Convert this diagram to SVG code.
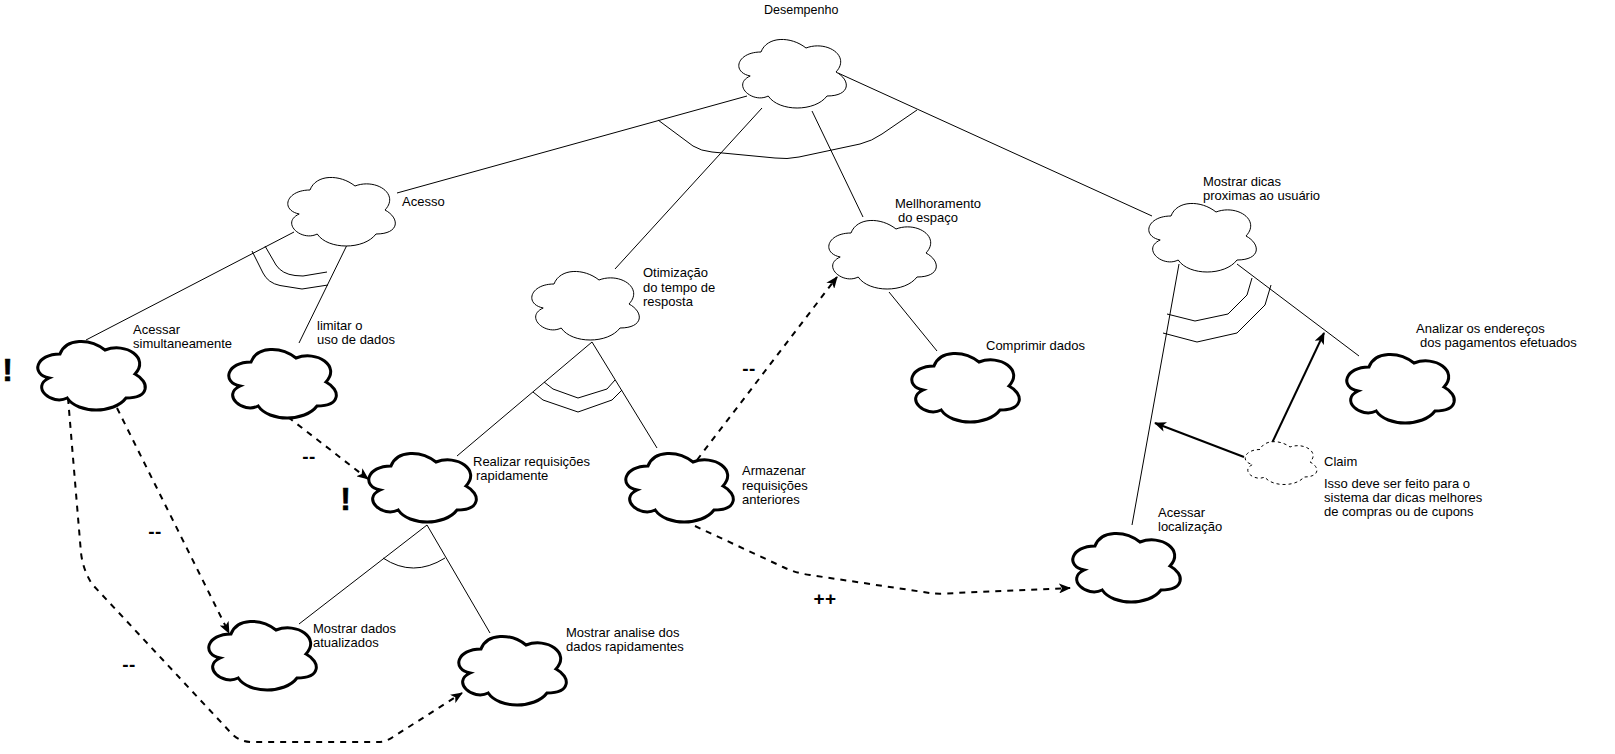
<svg xmlns="http://www.w3.org/2000/svg" xmlns:xlink="http://www.w3.org/1999/xlink" width="1615" height="754" viewBox="0 0 1615 754">
<style>
text{font-family:"Liberation Sans",Arial,sans-serif;font-size:13px;fill:#000}
.thin{fill:#fff;stroke:#000;stroke-width:1}
.thick{fill:#fff;stroke:#000;stroke-width:3}
.claim{fill:#fff;stroke:#000;stroke-width:1;stroke-dasharray:3 3}
.ln{fill:none;stroke:#000;stroke-width:1}
.dash{fill:none;stroke:#000;stroke-width:2;stroke-dasharray:6 6}
.solid{fill:none;stroke:#000;stroke-width:2}
.big{font-weight:bold;font-size:32px;text-anchor:middle;stroke:#000;stroke-width:0.6}
.sym{font-weight:bold;font-size:19px;text-anchor:middle;letter-spacing:0.5px}
</style>
<defs>
<path id="cloud" d="M30,20 C6,20 0,40 19.2,44 C0,52.8 21.6,72 37.2,64 C48,80 84,80 96,64 C120,64 120,48 105,40 C120,24 96,8 75,16 C60,4 36,4 30,20 Z"/>
<marker id="arr" markerUnits="userSpaceOnUse" markerWidth="12" markerHeight="10" viewBox="0 0 12 10" refX="11" refY="5" orient="auto">
<path d="M0,0 L12,5 L0,10 L3,5 Z" fill="#000"/>
</marker>
</defs>
<rect width="1615" height="754" fill="#fff"/>
<g id="connectors">
<line class="ln" x1="747" y1="96" x2="397" y2="193"/>
<line class="ln" x1="762" y1="108" x2="615" y2="269"/>
<line class="ln" x1="812" y1="111" x2="863" y2="217"/>
<line class="ln" x1="838" y1="73" x2="1152" y2="216"/>
<path class="ln" d="M658,120 L693,146 Q701,151 712,152 L775,158 Q787,159.5 799,157 L860,144 Q872,141 882,134 L917,110"/>
<line class="ln" x1="294" y1="232" x2="86" y2="340"/>
<line class="ln" x1="347" y1="245" x2="299" y2="343"/>
<path class="ln" d="M265,246 L276,265 Q282,274 295,275.5 L303,276 L327,272"/>
<path class="ln" d="M252,251 L263,273 Q268,283 280,285.5 L302,289 L328,285"/>
<line class="ln" x1="592" y1="342" x2="457" y2="456"/>
<line class="ln" x1="592" y1="342" x2="657" y2="448"/>
<path class="ln" d="M544,382 L553,389 L578,398 L607,389 L615,380"/>
<path class="ln" d="M533,392 L543,400 L578,412 L612,400 L622,390"/>
<line class="ln" x1="427" y1="525" x2="299" y2="624"/>
<line class="ln" x1="427" y1="525" x2="490" y2="633"/>
<path class="ln" d="M383,558 Q413,578 445,558"/>
<line class="ln" x1="889" y1="292" x2="937" y2="351"/>
<line class="ln" x1="1179" y1="264" x2="1132" y2="525"/>
<line class="ln" x1="1237" y1="264" x2="1359" y2="356"/>
<path class="ln" d="M1252,278 L1247,295 L1228,314 L1195,321 L1167,314"/>
<path class="ln" d="M1271,285 L1265,305 L1237,333 L1197,342 L1163,333"/>
<line class="solid" x1="1244" y1="457" x2="1155" y2="423" marker-end="url(#arr)"/>
<line class="solid" x1="1272" y1="443" x2="1324" y2="333" marker-end="url(#arr)"/>
<line class="dash" x1="288" y1="417" x2="368" y2="479" marker-end="url(#arr)"/>
<line class="dash" x1="117" y1="408" x2="229" y2="633" marker-end="url(#arr)"/>
<path class="dash" d="M68,398 L81,553 Q83,570 92,584 L232,734 Q240,742 252,742 L378,742 Q386,742 393,737 L462,693" marker-end="url(#arr)"/>
<line class="dash" x1="697" y1="460" x2="837" y2="277" marker-end="url(#arr)"/>
<path class="dash" d="M695,526 L783,567 Q795,573 810,575 L930,593 Q937,594 945,593.5 L1070,588" marker-end="url(#arr)"/>
</g>
<g id="labels">
<text class="big" x="7.5" y="381">!</text>
<text class="big" x="345.5" y="510">!</text>
<text class="sym" x="309" y="463">--</text>
<text class="sym" x="155" y="538">--</text>
<text class="sym" x="129" y="671">--</text>
<text class="sym" x="749" y="375">--</text>
<text class="sym" x="825" y="605">++</text>
</g>
<g id="desempenho">
<use xlink:href="#cloud" class="thin" x="731" y="32"/>
<text x="764" y="14" style="font-size:12.5px">Desempenho</text>
</g>
<g id="acesso">
<use xlink:href="#cloud" class="thin" x="280" y="170"/>
<text x="402" y="206">Acesso</text>
</g>
<g id="otimizacao">
<use xlink:href="#cloud" class="thin" x="524" y="264"/>
<text x="643" y="277">Otimização</text>
<text x="643" y="291.5">do tempo de</text>
<text x="643" y="306">resposta</text>
</g>
<g id="melhoramento">
<use xlink:href="#cloud" class="thin" x="821" y="213"/>
<text x="895" y="208">Mellhoramento</text>
<text x="898" y="222">do espaço</text>
</g>
<g id="mostrar-dicas">
<use xlink:href="#cloud" class="thin" x="1141" y="196"/>
<text x="1203" y="186">Mostrar dicas</text>
<text x="1203" y="200">proximas ao usuário</text>
</g>
<g id="acessar-simultaneamente">
<use xlink:href="#cloud" class="thick" x="30" y="334"/>
<text x="133" y="334">Acessar</text>
<text x="133" y="348">simultaneamente</text>
</g>
<g id="limitar">
<use xlink:href="#cloud" class="thick" x="221" y="342"/>
<text x="317" y="330">limitar o</text>
<text x="317" y="344">uso de dados</text>
</g>
<g id="realizar">
<use xlink:href="#cloud" class="thick" x="361" y="446"/>
<text x="473" y="466">Realizar requisições</text>
<text x="476" y="480">rapidamente</text>
</g>
<g id="armazenar">
<use xlink:href="#cloud" class="thick" x="618" y="446"/>
<text x="742" y="475">Armazenar</text>
<text x="742" y="489.5">requisições</text>
<text x="742" y="504">anteriores</text>
</g>
<g id="comprimir">
<use xlink:href="#cloud" class="thick" x="904" y="346"/>
<text x="986" y="350">Comprimir dados</text>
</g>
<g id="analizar">
<use xlink:href="#cloud" class="thick" x="1339" y="347"/>
<text x="1416" y="333">Analizar os endereços</text>
<text x="1420" y="347">dos pagamentos efetuados</text>
</g>
<g id="claim">
<path class="claim" d="M1260,449.5 C1244,449.5 1240,462 1252.8,464.5 C1240,470 1254.4,482 1264.8,477 C1272,487 1296,487 1304,477 C1320,477 1320,467 1310,462 C1320,452 1304,442 1290,447 C1280,439.5 1264,439.5 1260,449.5 Z"/>
<text x="1324" y="466">Claim</text>
<text x="1324" y="488">Isso deve ser feito para o</text>
<text x="1324" y="502">sistema dar dicas melhores</text>
<text x="1324" y="516">de compras ou de cupons</text>
</g>
<g id="acessar-localizacao">
<use xlink:href="#cloud" class="thick" x="1065" y="526"/>
<text x="1158" y="517">Acessar</text>
<text x="1158" y="531">localização</text>
</g>
<g id="mostrar-dados">
<use xlink:href="#cloud" class="thick" x="201" y="614"/>
<text x="313" y="633">Mostrar dados</text>
<text x="313" y="647">atualizados</text>
</g>
<g id="mostrar-analise">
<use xlink:href="#cloud" class="thick" x="451" y="629"/>
<text x="566" y="637">Mostrar analise dos</text>
<text x="566" y="651">dados rapidamentes</text>
</g>
</svg>
